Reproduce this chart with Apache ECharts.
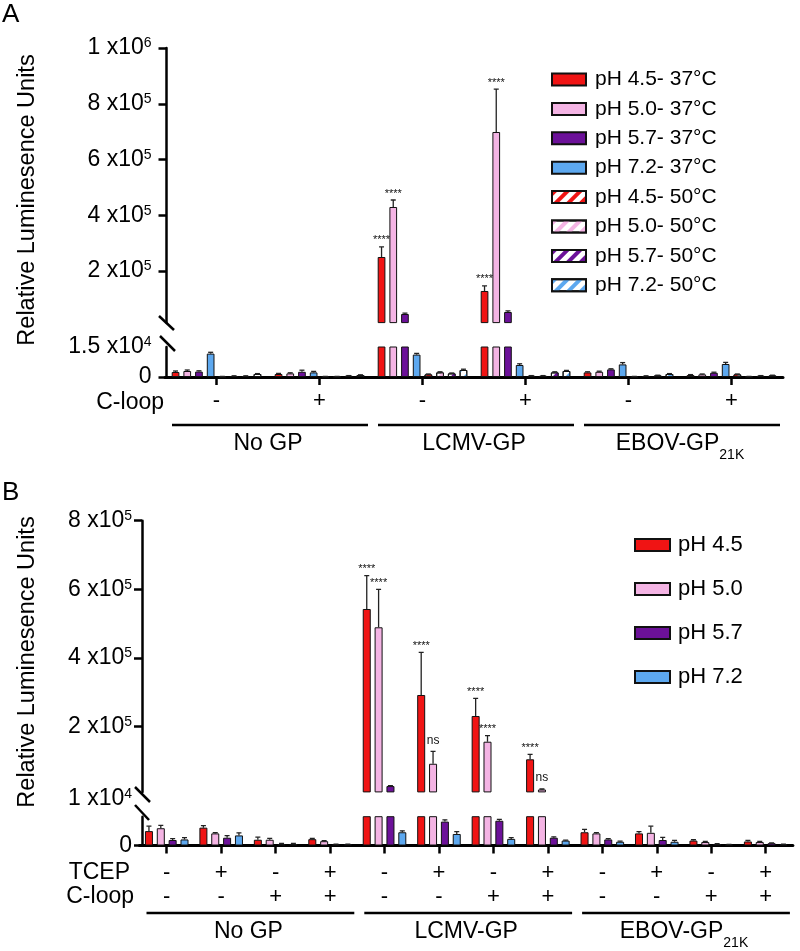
<!DOCTYPE html>
<html><head><meta charset="utf-8">
<script src="https://cdn.jsdelivr.net/npm/echarts@6/dist/echarts.min.js"></script>
<style>html,body{margin:0;padding:0;background:#fff}#c{width:800px;height:951px}</style>
</head><body><div id="c"></div>
<script>
// ================= DATA =================
// Panel A
const cloopA = ['-', '+', '-', '+', '-', '+'];
const groupsA = ['No GP', 'LCMV-GP', 'EBOV-GP'];
const groupSubsA = ['', '', '21K'];
const namesA = ['pH 4.5- 37°C', 'pH 5.0- 37°C', 'pH 5.7- 37°C', 'pH 7.2- 37°C',
                'pH 4.5- 50°C', 'pH 5.0- 50°C', 'pH 5.7- 50°C', 'pH 7.2- 50°C'];
const a_ph45_37 = [2500, 1500, 250300, 128400, 2300, 1000];
const a_ph50_37 = [3000, 1800, 429700, 698700, 2600, 1300];
const a_ph57_37 = [2700, 2600, 45800, 53000, 3800, 2100];
const a_ph72_37 = [11700, 2300, 11200, 6000, 6300, 6500];
const a_ph45_50 = [200, 200, 1300, 600, 200, 1300];
const a_ph50_50 = [500, 200, 2300, 600, 500, 200];
const a_ph57_50 = [500, 600, 1800, 2300, 800, 600];
const a_ph72_50 = [1500, 1000, 3500, 3000, 1500, 800];
const a_err45_37 = [500, 300, 36000, 18000, 300, 200];
const a_err50_37 = [500, 300, 25000, 154000, 300, 200];
const a_err57_37 = [400, 800, 3000, 4000, 300, 300];
const a_err72_37 = [650, 500, 600, 600, 900, 800];
const a_err45_50 = [100, 100, 200, 100, 100, 200];
const a_err50_50 = [100, 100, 300, 100, 100, 100];
const a_err57_50 = [100, 100, 200, 300, 100, 100];
const a_err72_50 = [200, 100, 400, 300, 200, 100];
const a_sig45_37 = ['', '', '****', '****', '', ''];
const a_sig50_37 = ['', '', '****', '****', '', ''];
const yLabelsA_upper = [200000, 400000, 600000, 800000, 1000000];
const yLabelsA_lower = [0, 15000];
const yBreakA = 15000, yMaxA = 1000000;

// Panel B
const tcepB  = ['-', '+', '-', '+', '-', '+', '-', '+', '-', '+', '-', '+'];
const cloopB = ['-', '-', '+', '+', '-', '-', '+', '+', '-', '-', '+', '+'];
const groupsB = ['No GP', 'LCMV-GP', 'EBOV-GP'];
const groupSubsB = ['', '', '21K'];
const namesB = ['pH 4.5', 'pH 5.0', 'pH 5.7', 'pH 7.2'];
const b_ph45 = [5000, 6200, 2000, 2200, 542800, 292300, 231100, 105000, 4600, 4200, 1700, 1400];
const b_ph50 = [6000, 4200, 2000, 1500, 489500, 92000, 156200, 17000, 4200, 4400, 1200, 1200];
const b_ph57 = [1900, 2700, 500, 400, 27000, 8300, 8600, 2700, 2100, 1900, 500, 800];
const b_ph72 = [2100, 3500, 500, 400, 4600, 4000, 2300, 1700, 1300, 1300, 300, 400];
const b_err45 = [1700, 700, 900, 300, 97000, 124300, 51500, 14500, 1000, 600, 300, 400];
const b_err50 = [1000, 300, 500, 200, 110700, 36000, 17500, 1500, 300, 2300, 200, 200];
const b_err57 = [500, 700, 200, 100, 1500, 600, 500, 300, 300, 900, 100, 100];
const b_err72 = [600, 900, 200, 100, 500, 800, 400, 200, 200, 500, 100, 100];
const b_sig45 = ['', '', '', '', '****', '****', '****', '****', '', '', '', ''];
const b_sig50 = ['', '', '', '', '****', 'ns', '****', 'ns', '', '', '', ''];
const yLabelsB_upper = [10000, 200000, 400000, 600000, 800000];
const yTicksB_upper = [200000, 400000, 600000, 800000];
const yLabelsB_lower = [0];
const yBreakB = 10000, yMaxB = 800000;

// ================= STYLE / LAYOUT =================
const FONT = '"Liberation Sans", Arial, sans-serif';
const COLORS = ['#f01414', '#f4b4e4', '#6c1199', '#5da8ef'];
const GA = {left: 165, width: 618, upTop: 48, upH: 274.6, loTop: 347, loH: 30};
const GB = {left: 139.5, width: 653.4, upTop: 520.7, upH: 271.2, loTop: 816.7, loH: 28.8};
const CGA = 0.13, BGA = 0.52, CGB = 0.20, BGB = 0.48;
const TICKFONT = 23, SUPFONT = 14;

const valsA = [a_ph45_37, a_ph50_37, a_ph57_37, a_ph72_37, a_ph45_50, a_ph50_50, a_ph57_50, a_ph72_50];
const errsA = [a_err45_37, a_err50_37, a_err57_37, a_err72_37, a_err45_50, a_err50_50, a_err57_50, a_err72_50];
const sigsA = [a_sig45_37, a_sig50_37, null, null, null, null, null, null];
const valsB = [b_ph45, b_ph50, b_ph57, b_ph72];
const errsB = [b_err45, b_err50, b_err57, b_err72];
const sigsB = [b_sig45, b_sig50, null, null];

function sciFmt(v) {
  if (v === 0) return '{n|0}';
  const e = Math.floor(Math.log10(v) + 1e-9);
  const m = +(v / Math.pow(10, e)).toFixed(2);
  return '{n|' + m + ' x10}{s|' + e + '}';
}
const yRich = {
  n: {fontSize: TICKFONT, fontFamily: FONT, color: '#000'},
  s: {fontSize: SUPFONT, fontFamily: FONT, color: '#000', verticalAlign: 'top'},
  n2: {fontSize: TICKFONT, fontFamily: FONT, color: '#000', padding: [14, 0, 0, 0]},
  s2: {fontSize: SUPFONT, fontFamily: FONT, color: '#000', verticalAlign: 'top', padding: [14, 0, 0, 0]}
};
function yAx(grid, min, max, labels, ticks, margin, offset, shiftMin) {
  return {
    type: 'value', gridIndex: grid, min: min, max: max, offset: offset,
    splitLine: {show: false},
    axisLine: {show: true, onZero: false, lineStyle: {color: '#000', width: 2.5}},
    axisTick: {show: true, customValues: ticks, length: 8, lineStyle: {color: '#000', width: 2.5}},
    axisLabel: {
      show: true, customValues: labels, margin: margin,
      formatter: function (v) {
        if (shiftMin && v === min) return sciFmt(v).replace('{n|', '{n2|').replace('{s|', '{s2|');
        return sciFmt(v);
      },
      rich: yRich
    }
  };
}
function groupFmt(groups, subs) {
  return function (v) {
    const idx = groups.indexOf(v);
    return '{m|' + v + '}' + (subs[idx] ? '{sb|' + subs[idx] + '}' : '');
  };
}
const groupRich = {
  m: {fontSize: 23, fontFamily: FONT, color: '#000'},
  sb: {fontSize: 14, fontFamily: FONT, color: '#000', verticalAlign: 'bottom', padding: [0, 0, -7, 0]}
};

function makeErr(n, cg, bg, txts) {
  return function (params, api) {
    const cat = api.value(0), v = api.value(1), k = api.value(2), e = api.value(3);
    const cs = params.coordSys;
    const band = api.size([1, 0])[0];
    const usable = band * (1 - cg);
    const w = usable / (n + (n - 1) * bg);
    const c = api.coord([cat, v]);
    const x = c[0] - usable / 2 + k * w * (1 + bg) + w / 2;
    const y0 = c[1];
    const y1 = api.coord([cat, v + e])[1];
    const ch = [];
    // only draw in the segment of the broken axis that holds the bar top
    if (y1 >= cs.y + cs.height - 0.5 || y0 < cs.y) return {type: 'group', children: ch};
    if (e > 0) {
      ch.push({type: 'line', shape: {x1: x, y1: y0, x2: x, y2: y1}, style: {stroke: '#222', lineWidth: 1.3}});
      ch.push({type: 'line', shape: {x1: x - 2.5, y1: y1, x2: x + 2.5, y2: y1}, style: {stroke: '#222', lineWidth: 1.3}});
    }
    const t = txts[params.dataIndex];
    if (t) {
      ch.push({type: 'text', x: x, y: t === 'ns' ? y1 - 5 : y1 - 1,
        style: {text: t, fill: '#111', fontSize: t === 'ns' ? 12 : 11, fontFamily: FONT, align: 'center', verticalAlign: 'bottom'}});
    }
    return {type: 'group', children: ch};
  };
}

function buildPanel(vals, errs, sigs, names, xU, xL, yU, yL, cg, bg, hatchFrom, minU) {
  const series = [];
  const n = vals.length;
  vals.forEach(function (arr, k) {
    const col = COLORS[k % 4];
    const hatched = k >= hatchFrom;
    const itemStyle = {color: hatched ? '#ffffff' : col, borderColor: '#111', borderWidth: 1};
    if (hatched) itemStyle.decal = {symbol: 'rect', symbolSize: 1, dashArrayX: [1, 0], dashArrayY: [4, 5], rotation: -Math.PI / 4, color: col};
    // upper (broken) segment: only values that reach above the break are drawn there
    series.push({type: 'bar', name: names[k], xAxisIndex: xU, yAxisIndex: yU,
      data: arr.map(function (v) { return v > minU ? v : '-'; }),
      barCategoryGap: (cg * 100) + '%', barGap: (bg * 100) + '%', clip: true,
      itemStyle: itemStyle, emphasis: {disabled: true}, animation: false});
    series.push({type: 'bar', name: names[k], xAxisIndex: xL, yAxisIndex: yL, data: arr,
      barCategoryGap: (cg * 100) + '%', barGap: (bg * 100) + '%', clip: true,
      itemStyle: itemStyle, emphasis: {disabled: true}, animation: false});
  });
  const rows = [], txts = [];
  vals.forEach(function (arr, k) {
    arr.forEach(function (v, i) {
      rows.push([i, v, k, errs[k][i]]);
      txts.push(sigs[k] ? sigs[k][i] : '');
    });
  });
  [[xU, yU], [xL, yL]].forEach(function (ax) {
    series.push({type: 'custom', name: 'err', xAxisIndex: ax[0], yAxisIndex: ax[1], clip: true, z: 5,
      silent: true, animation: false, data: rows, encode: {x: 0, y: 1},
      renderItem: makeErr(n, cg, bg, txts)});
  });
  return series;
}

const series = [].concat(
  buildPanel(valsA, errsA, sigsA, namesA, 0, 1, 0, 1, CGA, BGA, 4, yBreakA),
  buildPanel(valsB, errsB, sigsB, namesB, 3, 4, 2, 3, CGB, BGB, 99, yBreakB)
);

function lowerX(grid, data, fmt, margin, lh) {
  return {type: 'category', gridIndex: grid, data: data, position: 'bottom',
    axisLine: {show: true, onZero: false, lineStyle: {color: '#000', width: 3}},
    axisTick: {show: true, alignWithLabel: true, interval: 0, length: 8, lineStyle: {color: '#000', width: 2.5}},
    axisLabel: {interval: 0, margin: margin, color: '#000', fontSize: 22, fontFamily: FONT, lineHeight: lh, formatter: fmt},
    splitLine: {show: false}};
}
function groupX(grid, groups, subs, offset) {
  return {type: 'category', gridIndex: grid, data: groups, position: 'bottom', offset: offset,
    axisLine: {show: false}, axisTick: {show: false}, splitLine: {show: false},
    axisLabel: {interval: 0, margin: 0, formatter: groupFmt(groups, subs), rich: groupRich}};
}

const catsB = tcepB.map(function (t, i) { return i; });
const option = {
  animation: false,
  backgroundColor: '#fff',
  textStyle: {fontFamily: FONT},
  grid: [
    {left: GA.left, top: GA.upTop, width: GA.width, height: GA.upH, containLabel: false, outerBoundsMode: 'none'},
    {left: GA.left, top: GA.loTop, width: GA.width, height: GA.loH, containLabel: false, outerBoundsMode: 'none'},
    {left: GB.left, top: GB.upTop, width: GB.width, height: GB.upH, containLabel: false, outerBoundsMode: 'none'},
    {left: GB.left, top: GB.loTop, width: GB.width, height: GB.loH, containLabel: false, outerBoundsMode: 'none'}
  ],
  xAxis: [
    {type: 'category', gridIndex: 0, data: cloopA, show: false},
    lowerX(1, cloopA, null, 13, 22),
    groupX(1, groupsA, groupSubsA, 55),
    {type: 'category', gridIndex: 2, data: catsB, show: false},
    lowerX(3, catsB, function (v, i) { return tcepB[i] + '\n' + cloopB[i]; }, 15, 24),
    groupX(3, groupsB, groupSubsB, 75)
  ],
  yAxis: [
    yAx(0, yBreakA, yMaxA, yLabelsA_upper, yLabelsA_upper, 15, -1.5, false),
    yAx(1, 0, yBreakA, yLabelsA_lower, [0], 15, -1.5, false),
    yAx(2, yBreakB, yMaxB, yLabelsB_upper, yTicksB_upper, 10, -2.5, true),
    yAx(3, 0, yBreakB, yLabelsB_lower, [0], 10, -2.5, false)
  ],
  legend: [
    {data: namesA, orient: 'vertical', left: 546, top: 64, itemWidth: 34, itemHeight: 12, itemGap: 8.4,
      icon: 'rect', selectedMode: false,
      textStyle: {fontSize: 21, fontFamily: FONT, color: '#000', padding: [0, 0, 0, 4]}},
    {data: namesB, orient: 'vertical', left: 629, top: 529, itemWidth: 35, itemHeight: 12, itemGap: 22,
      icon: 'rect', selectedMode: false,
      textStyle: {fontSize: 22, fontFamily: FONT, color: '#000', padding: [0, 0, 0, 3]}}
  ],
  graphic: (function () {
    const g = [];
    const txt = function (x, y, s, size, align, rot) {
      g.push({type: 'text', x: x, y: y, rotation: rot || 0,
        style: {text: s, fontSize: size, fontFamily: FONT, fill: '#000', align: align, verticalAlign: 'middle'}});
    };
    const ln = function (x1, y1, x2, y2, w) {
      g.push({type: 'line', shape: {x1: x1, y1: y1, x2: x2, y2: y2}, style: {stroke: '#000', lineWidth: w}});
    };
    txt(2, 15, 'A', 26, 'left');
    txt(2, 493, 'B', 26, 'left');
    txt(28, 200, 'Relative Luminesence Units', 23.5, 'center', Math.PI / 2);
    txt(28, 662, 'Relative Luminesence Units', 23.5, 'center', Math.PI / 2);
    txt(164, 403, 'C-loop', 23, 'right');
    txt(130, 873, 'TCEP', 23, 'right');
    txt(134, 897, 'C-loop', 23, 'right');
    [[GA, 425], [GB, 913]].forEach(function (p) {
      const G = p[0], third = G.width / 3;
      for (let i = 0; i < 3; i++) ln(G.left + third * i + 7, p[1], G.left + third * (i + 1) - 3, p[1], 2.5);
    });
    // axis break marks
    ln(159, 316, 174, 330, 2.5);
    ln(160, 336, 175, 351, 2.5);
    ln(135, 787, 150, 802, 2.5);
    ln(135, 805, 149, 820, 2.5);
    return g;
  })(),
  series: series
};
const chart = echarts.init(document.getElementById('c'), null, {renderer: 'canvas'});
chart.setOption(option);
</script></body></html>
